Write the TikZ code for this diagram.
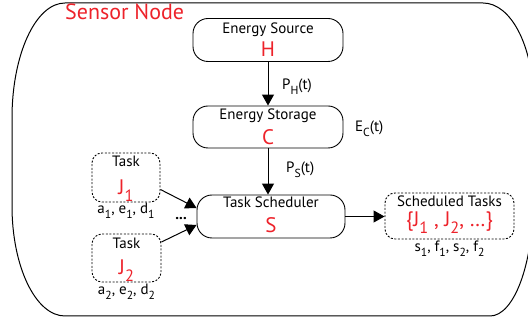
\documentclass[tikz,border=0pt]{standalone}
\usepackage{fontspec}
\setmainfont{PT Sans}
\usetikzlibrary{arrows.meta, positioning}
\definecolor{symred}{RGB}{237,34,42}
\newcommand{\lo}[1]{\raisebox{-.32em}{\scalebox{.78}{#1}}}

\begin{document}
\begin{tikzpicture}[x=1pt, y=-1pt,
	block/.style={draw, line width=0.9pt, rounded corners=15pt, minimum width=150pt, minimum height=43pt},
	taskbox/.style={draw, line width=0.9pt, dash pattern=on 2pt off 1.6pt, rounded corners=10pt},
	txt/.style={anchor=base, inner sep=0pt, font=\fontsize{15}{16}\selectfont},
	sym/.style={anchor=base, inner sep=0pt, text=symred, font=\fontsize{21}{22}\selectfont},
	flow/.style={line width=1pt, -{Triangle[length=11pt, width=12pt]}}]
	\useasboundingbox (0,0) rectangle (528,320);

	%%%% sensor node outline
	\draw[line width=1pt] (65,3) -- (483,3) .. controls (510.6,3) and (533,45.6) .. (533,98)
		-- (533,202) .. controls (533,265) and (513.7,316) .. (490,316)
		-- (65,316) .. controls (35.7,316) and (12,266.7) .. (12,206)
		-- (12,118) .. controls (12,54.5) and (35.7,3) .. (65,3) -- cycle;
	\node[anchor=base west, inner sep=0pt, text=symred, font=\fontsize{22}{23}\selectfont] (title) at (65,20) {Sensor Node};

	%%%% energy path
	\node[block] (src) at (268,40) {};
	\node[txt] (srcname) at (268,34) {Energy Source};
	\node[sym] (srcsym) at (268,57) {H};

	\node[block, minimum height=42pt] (sto) at (268,127) {};
	\node[txt] (stoname) at (268,120) {Energy Storage};
	\node[sym] (stosym) at (268,145) {C};

	\node[block, minimum width=148pt] (sch) at (271,216.5) {};
	\node[txt] (schname) at (271,208) {Task Scheduler};
	\node[sym] (schsym) at (271,233) {S};

	\draw[flow] (src.south) -- (sto.north);
	\draw[flow] (sto.south) -- (sto.south |- sch.north);
	\node[txt, anchor=base west] (ph) at (282,90) {P\lo{H}(t)};
	\node[txt, anchor=base west] (ec) at (355,132) {E\lo{C}(t)};
	\node[txt, anchor=base west] (ps) at (286,173) {P\lo{S}(t)};

	%%%% tasks
	\node[taskbox, minimum width=68pt, minimum height=49pt] (t1) at (126,177.5) {};
	\node[txt] (t1name) at (126,167) {Task};
	\node[sym] (t1sym) at (126,195) {J\lo{1}};
	\node[txt] (t1par) at (126,214) {a\lo{1}, e\lo{1}, d\lo{1}};

	\node[taskbox, minimum width=69pt, minimum height=48pt] (t2) at (126.5,258) {};
	\node[txt] (t2name) at (126.5,249) {Task};
	\node[sym] (t2sym) at (126.5,275) {J\lo{2}};
	\node[txt] (t2par) at (126.5,295) {a\lo{2}, e\lo{2}, d\lo{2}};

	\node[txt, font=\fontsize{15}{16}\bfseries] (more) at (181,220) {...};
	\draw[flow] ([yshift=-12pt]t1.east) -- ([yshift=8.5pt]sch.west);
	\draw[flow] ([yshift=16pt]t2.east) -- ([yshift=-8.5pt]sch.west);

	%%%% output
	\node[taskbox, minimum width=129pt, minimum height=46pt] (out) at (449.5,216) {};
	\node[txt] (outname) at (449.5,207) {Scheduled Tasks};
	\node[sym] (outsym) at (449.5,227) {\{J\lo{1} , J\lo{2}, \dots\}};
	\node[txt] (outpar) at (449.5,252) {s\lo{1}, f\lo{1}, s\lo{2}, f\lo{2}};
	\draw[flow] (sch.east) -- (sch.east -| out.west);
\end{tikzpicture}
\end{document}
